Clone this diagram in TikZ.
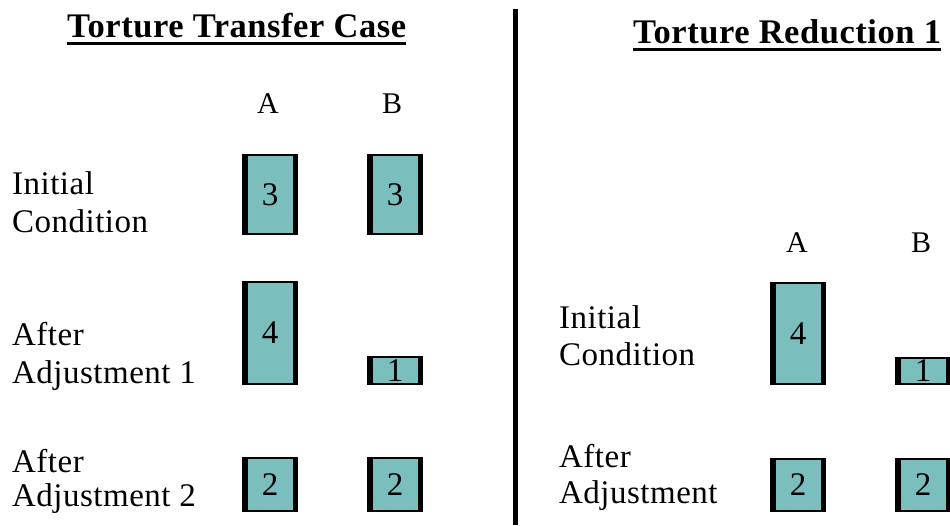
\documentclass[tikz,border=0pt]{standalone}
\usepackage{fontspec}
\setmainfont{Liberation Serif}
\newfontfamily\ttlfont[LetterSpace=1.6]{Liberation Serif}
\newfontfamily\lblfont[LetterSpace=1.5]{Liberation Serif}
\definecolor{boxfill}{RGB}{122,190,190}
\begin{document}
\begin{tikzpicture}[x=1pt,y=-1pt,
  lbl/.style={font=\lblfont\fontsize{33}{38}\selectfont, anchor=base west, inner sep=0},
  ttl/.style={font=\ttlfont\fontsize{34.5}{40}\bfseries\selectfont, anchor=base west, inner sep=0},
  col/.style={font=\fontsize{30}{34}\selectfont, anchor=base, inner sep=0},
  bar/.style={draw=black, line width=1.5pt, fill=boxfill, minimum width=54pt, inner sep=0, outer sep=0, anchor=north west, font=\fontsize{33}{36}\selectfont},
  side/.style={line width=4.5pt}]
\useasboundingbox (0,0) rectangle (950,525);

% divider
\coordinate (dtop) at (515,9);
\coordinate (dbot) at (515,525);
\draw[line width=5pt] (dtop) -- (dbot);

% titles
\node[ttl] (ttlL) at (67,37) {Torture Transfer Case};
\node[ttl] (ttlR) at (633,43) {Torture Reduction 1};
\draw[line width=3pt] ([yshift=-6pt]ttlL.base west) -- ([yshift=-6pt]ttlL.base east);
\draw[line width=3pt] ([yshift=-6pt]ttlR.base west) -- ([yshift=-6pt]ttlR.base east);

% column heads
\node[col] (hLA) at (268,113) {A};
\node[col] (hLB) at (392,113) {B};
\node[col] (hRA) at (797,252) {A};
\node[col] (hRB) at (921,252) {B};

% row labels left
\node[lbl] (l1a) at (12,194) {Initial};
\node[lbl] (l1b) at (12,232) {Condition};
\node[lbl] (l2a) at (12,345) {After};
\node[lbl] (l2b) at (12,383) {Adjustment 1};
\node[lbl] (l3a) at (12,472) {After};
\node[lbl] (l3b) at (12,506) {Adjustment 2};
% row labels right
\node[lbl] (r1a) at (559,328) {Initial};
\node[lbl] (r1b) at (559,365) {Condition};
\node[lbl] (r2a) at (559,467) {After};
\node[lbl] (r2b) at (559,503) {Adjustment};

% boxes left
\node[bar, minimum height=79pt] (lA3) at (243,155) {3};
\node[bar, minimum height=79pt] (lB3) at (368,155) {3};
\node[bar, minimum height=102pt] (lA4) at (243,282) {4};
\node[bar, minimum height=27pt] (lB1) at (368,357) {1};
\node[bar, minimum height=53pt] (lA2) at (243,458) {2};
\node[bar, minimum height=53pt] (lB2) at (368,458) {2};
% boxes right
\node[bar, minimum height=101pt] (rA4) at (771,283) {4};
\node[bar, minimum height=26pt] (rB1) at (896,358) {1};
\node[bar, minimum height=52pt] (rA2) at (771,459) {2};
\node[bar, minimum height=52pt] (rB2) at (896,459) {2};

\foreach \b in {lA3,lB3,lA4,lB1,lA2,lB2,rA4,rB1,rA2,rB2} {
  \draw[side] ([xshift=2.25pt]\b.north west) -- ([xshift=2.25pt]\b.south west);
  \draw[side] ([xshift=-2.25pt]\b.north east) -- ([xshift=-2.25pt]\b.south east);
}
\end{tikzpicture}
\end{document}
